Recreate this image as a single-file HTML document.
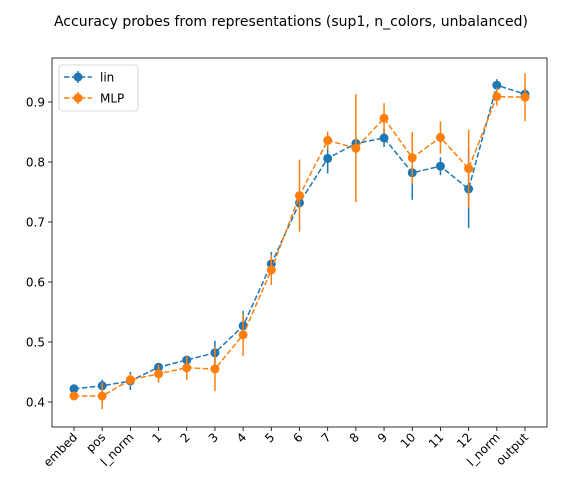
<!DOCTYPE html>
<html><head><meta charset="utf-8"><style>
body{margin:0;background:#fff;font-family:"Liberation Sans","DejaVu Sans",sans-serif}
svg text{font-family:"DejaVu Sans","Liberation Sans",sans-serif}
</style></head><body>
<svg id="chart" width="582" height="491" xmlns="http://www.w3.org/2000/svg">
<text x="291" y="26" text-anchor="middle" font-size="14">Accuracy probes from representations (sup1, n_colors, unbalanced)</text>
<g id="plot"></g>
</svg>
<script>
const categories=["embed","pos","l_norm","1","2","3","4","5","6","7","8","9","10","11","12","l_norm","output"];
const linValues=[0.422,0.427,0.435,0.458,0.470,0.482,0.527,0.630,0.732,0.806,0.831,0.840,0.782,0.793,0.755,0.928,0.913];
const linErr=[0.005,0.01,0.015,0.005,0.007,0.02,0.025,0.02,0.01,0.025,0.01,0.015,0.045,0.015,0.065,0.01,0.01];
const mlpValues=[0.410,0.410,0.437,0.447,0.457,0.455,0.512,0.620,0.744,0.836,0.823,0.873,0.807,0.841,0.789,0.909,0.908];
const mlpErr=[0.005,0.022,0.01,0.015,0.02,0.037,0.035,0.025,0.06,0.015,0.09,0.025,0.043,0.027,0.065,0.015,0.04];
const yTicks=[0.4,0.5,0.6,0.7,0.8,0.9];
const yTickLabels=["0.4","0.5","0.6","0.7","0.8","0.9"];
const L=52,R=547,T=58,B=427;
const x=i=>74+i*(525-74)/(categories.length-1);
const y=v=>402-(v-0.4)*600;
const NS="http://www.w3.org/2000/svg";
const g=document.getElementById('plot');
function mk(tag,attrs,parent){const e=document.createElementNS(NS,tag);for(const k in attrs)e.setAttribute(k,attrs[k]);(parent||g).appendChild(e);return e;}
yTicks.forEach((t,i)=>{
 const tk=mk('line',{x1:L-4,x2:L,y1:y(t),y2:y(t),stroke:'#000','stroke-width':0.8});
 
 
 const tx=mk('text',{x:L-7,y:y(t)+4.5,'text-anchor':'end','font-size':12});
 tx.textContent=yTickLabels[i];
 
 
});
categories.forEach((c,i)=>{
 const tk=mk('line',{x1:x(i),x2:x(i),y1:B,y2:B+4,stroke:'#000','stroke-width':0.8});
 
 
 const tx=mk('text',{x:x(i)+4,y:B+11,'text-anchor':'end','font-size':12,transform:`rotate(-45 ${x(i)+4} ${B+11})`});
 tx.textContent=c;
 
 
});
function series(vals,errs,color,name){
 const pts=vals.map((v,i)=>x(i)+','+y(v)).join(' ');
 const pl=mk('polyline',{points:pts,fill:'none',stroke:color,'stroke-width':1.5,'stroke-dasharray':'5.5,2.4'});
 
 
 vals.forEach((v,i)=>{
  const eb=mk('line',{x1:x(i),x2:x(i),y1:y(v-errs[i]),y2:y(v+errs[i]),stroke:color,'stroke-width':1.5});
  
  
  const c=mk('circle',{cx:x(i),cy:y(v),r:4.5,fill:color});
  
  
 });
}
series(linValues,linErr,'#1f77b4','lin');
series(mlpValues,mlpErr,'#ff7f0e','mlp');
const fr=mk('rect',{x:L,y:T,width:R-L,height:B-T,fill:'none',stroke:'#000','stroke-width':0.8});


const lg=mk('g',{});


mk('rect',{x:59,y:65,width:79,height:46,rx:3,fill:'#fff',stroke:'#ccc','stroke-width':0.8},lg);
[['lin','#1f77b4',77],['MLP','#ff7f0e',98]].forEach(([n,c,yy])=>{
 const e=mk('g',{},lg);
 
 
 mk('line',{x1:64,x2:92,y1:yy,y2:yy,stroke:c,'stroke-width':1.5,'stroke-dasharray':'5.5,2.4'},e);
 mk('line',{x1:78,x2:78,y1:yy-6,y2:yy+6,stroke:c,'stroke-width':1.5},e);
 mk('circle',{cx:78,cy:yy,r:4.5,fill:c},e);
 const t=mk('text',{x:100,y:yy+4.5,'font-size':12},e);t.textContent=n;
});
</script>
</body></html>
